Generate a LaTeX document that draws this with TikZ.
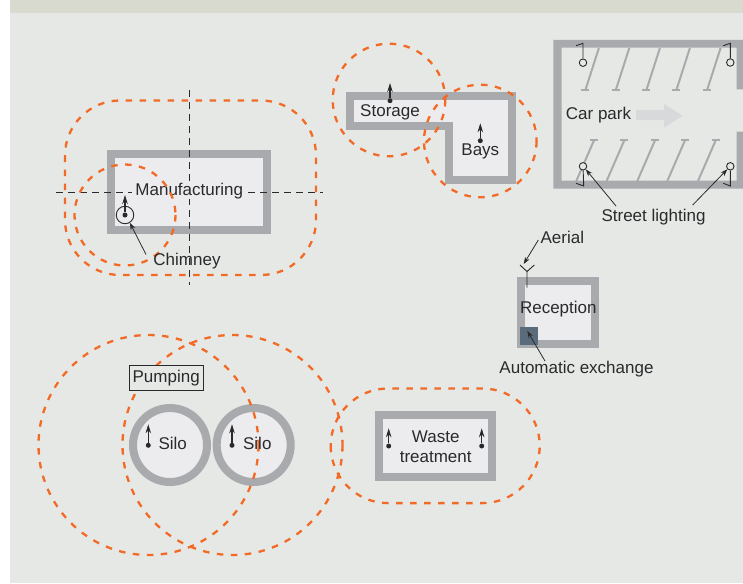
\documentclass[tikz,border=0pt]{standalone}
\usepackage{fontspec}
\setmainfont{Liberation Sans}
\usetikzlibrary{arrows.meta}
\definecolor{bandcol}{HTML}{D8D9CF}
\definecolor{bgcol}{HTML}{E6E8E5}
\definecolor{wallcol}{HTML}{A9AAAD}
\definecolor{roomcol}{HTML}{ECECEE}
\definecolor{zonecol}{HTML}{F26A25}
\definecolor{inkcol}{HTML}{2A2A2C}
\definecolor{exchcol}{HTML}{5A6B7B}
\definecolor{flowcol}{HTML}{D7D9DB}
\tikzset{
  wall/.style={draw=wallcol,line width=8pt,fill=roomcol,line join=miter},
  zone/.style={draw=zonecol,line width=2.3pt,dash pattern=on 6.5pt off 7.5pt},
  axis/.style={draw=inkcol,line width=0.9pt,dash pattern=on 7pt off 5pt},
  lbl/.style={inner sep=0pt,text=inkcol,font=\fontsize{17}{20}\selectfont,align=center},
  leader/.style={draw=inkcol,line width=0.8pt,-{Stealth[length=7pt,width=5pt]}},
  vent/.style={draw=inkcol,line width=1.1pt,-{Stealth[length=9pt,width=5.5pt]}},
  ventdot/.style={circle,fill=inkcol,inner sep=0pt,minimum size=5pt},
  stall/.style={draw=wallcol,line width=2pt},
  lamp/.style={draw=inkcol,line width=0.9pt},
  lampglobe/.style={circle,draw=inkcol,line width=0.9pt,inner sep=0pt,minimum size=7.5pt,fill=bgcol},
}
\begin{document}
\begin{tikzpicture}[x=1pt,y=-1pt]
\useasboundingbox (0,0) rectangle (743,583);
\fill[white] (0,0) rectangle (743,583);
\fill[bgcol] (10,13) rectangle (743,583);
\fill[bandcol] (10,0) rectangle (743,13);

% Manufacturing
\draw[wall] (111,154) rectangle (267,230);
\draw[axis] (56,192) -- (323,192);
\draw[axis] (189.5,90) -- (189.5,285);
\node[lbl,fill=roomcol,inner xsep=3pt] (manu) at (189.3,191.5) {Manufacturing};
\draw[zone,rounded corners=55pt] (65,100.5) rectangle (316,275);
\draw[zone] (125,215) circle[radius=50.5];
\node[circle,draw=inkcol,line width=0.9pt,inner sep=0pt,minimum size=17.5pt] (chimstack) at (125,215) {};
\node[ventdot] (chimdot) at (125,215) {};
\coordinate (chimtip) at (125,195);
\draw[vent] (chimdot) -- (chimtip);
\node[lbl] (chimney) at (187,261) {Chimney};
\draw[leader] ([shift={(-41,-6.5)}]chimney.center) -- (chimstack.-58);

% Storage and Bays
\draw[wall] (349.7,95.7) -- (511.5,95.7) -- (511.5,180.3) -- (449,180.3) -- (449,126.3) -- (349.7,126.3) -- cycle;
\draw[zone] (389,100) circle[radius=56.3];
\draw[zone] (480.3,141) circle[radius=56.3];
\node[lbl] (storage) at (390,112.5) {Storage};
\node[lbl] (bays) at (480.3,151) {Bays};
\node[ventdot] (stdot) at (390,100.7) {};
\coordinate (sttip) at (390,83);
\draw[vent] (stdot) -- (sttip);
\node[ventdot] (bydot) at (480.3,140.7) {};
\coordinate (bytip) at (480.3,123.3);
\draw[vent] (bydot) -- (bytip);

% Car park walls
\fill[wallcol] (553.3,40) -- (743,40) -- (743,89.3) -- (736.7,89.3) -- (736.7,47.7) -- (561.7,47.7) -- (561.7,180.7) -- (736.7,180.7) -- (736.7,131.7) -- (743,131.7) -- (743,188.7) -- (553.3,188.7) -- cycle;
\foreach \bx in {585.3,615.7,646.3,676.3,707}{
  \draw[stall] (\bx+13.6,48) -- (\bx,90.3);
  \draw[stall] (\bx-4,90.3) -- (\bx+4,90.3);
}
\foreach \bx in {594,624.3,655,685,715.7}{
  \draw[stall] (\bx,140.3) -- (\bx-17.7,181);
  \draw[stall] (\bx-4,140.3) -- (\bx+4,140.3);
}
\fill[flowcol] (636,110) -- (664,110) -- (664,104) -- (682.7,115.7) -- (664,127.7) -- (664,120) -- (636,120) -- cycle;
\node[lbl] (carpark) at (598.5,115) {Car park};

\node[lampglobe] (la) at (583,62.7) {};
\coordinate (la1) at (583,43.3); \coordinate (la2) at (576,45.7);
\draw[lamp] (la) -- (la1) -- (la2);
\node[lampglobe] (lb) at (730.3,62.5) {};
\coordinate (lb1) at (730.3,43.3); \coordinate (lb2) at (723.3,45.7);
\draw[lamp] (lb) -- (lb1) -- (lb2);
\node[lampglobe] (lc) at (583,166.3) {};
\coordinate (lc1) at (583.7,186); \coordinate (lc2) at (576,183.3);
\draw[lamp] (lc) -- (lc1) -- (lc2);
\node[lampglobe] (ld) at (730.3,166.3) {};
\coordinate (ld1) at (730.3,186); \coordinate (ld2) at (723.3,183.3);
\draw[lamp] (ld) -- (ld1) -- (ld2);
\node[lbl] (street) at (653.5,217.5) {Street lighting};
\draw[leader] ([shift={(-37.5,-11.5)}]street.center) -- (lc.-48);
\draw[leader] ([shift={(39.2,-12.5)}]street.center) -- (ld.-135);

% Reception
\draw[wall] (520.7,281.3) rectangle (595.3,344.3);
\fill[exchcol] (520,327) rectangle (538,345);
\coordinate (exchin) at (527.3,331);
\node[lbl] (reception) at (558.3,309.5) {Reception};
\node[lbl] (exchange) at (576.5,369.5) {Automatic exchange};
\draw[leader] ([shift={(-31.5,-8.5)}]exchange.center) -- (exchin);
\coordinate (aerbase) at (527,287.7);
\coordinate (aerfork) at (527,271.5);
\coordinate (aerl) at (520,265);
\coordinate (aerr) at (534.3,265);
\draw[lamp] (aerbase) -- (aerfork) -- (aerl);
\draw[lamp] (aerfork) -- (aerr);
\coordinate (aertop) at (523.7,264);
\node[lbl] (aerial) at (562.3,237.5) {Aerial};
\draw[leader] ([shift={(-24,2.5)}]aerial.center) -- (aertop);

% Silos
\draw[wall] (170,445) circle[radius=37];
\draw[wall] (253.7,445) circle[radius=37];
\draw[zone] (148.5,445) circle[radius=110];
\draw[zone] (232.5,445) circle[radius=110];
\node[lbl] (silob) at (172.7,443) {Silo};
\node[lbl] (siloc) at (257.3,443) {Silo};
\node[ventdot] (sadot) at (148.3,445.3) {};
\coordinate (satip) at (148.3,424.3);
\draw[vent] (sadot) -- (satip);
\node[ventdot] (sbdot) at (232,445.3) {};
\coordinate (sbtip) at (232,424.3);
\draw[vent] (sbdot) -- (sbtip);
\node[lbl,draw=inkcol,line width=0.8pt,fill=bgcol,inner sep=0pt,minimum width=74pt,minimum height=25.5pt] (pumping) at (166.2,378) {Pumping};

% Waste treatment
\draw[wall] (378.5,414.5) rectangle (492.3,477);
\draw[zone,rounded corners=57.3pt] (330.7,388.5) rectangle (539.7,503.1);
\node[lbl] (waste) at (435.7,447) {Waste\\treatment};
\node[ventdot] (wadot) at (388.7,446) {};
\coordinate (watip) at (388.7,428.3);
\draw[vent] (wadot) -- (watip);
\node[ventdot] (wbdot) at (481.7,446) {};
\coordinate (wbtip) at (481.7,428.3);
\draw[vent] (wbdot) -- (wbtip);
\end{tikzpicture}
\end{document}
